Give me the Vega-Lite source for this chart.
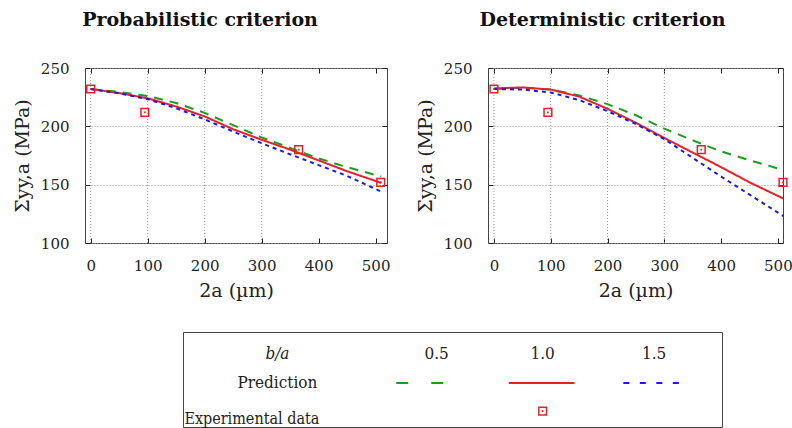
{
  "$schema": "https://vega.github.io/schema/vega-lite/v6.json",
  "padding": {"left": 12, "top": 10, "right": 0, "bottom": 0},
  "background": "white",
  "config": {
    "font": "DejaVu Serif",
    "view": {"stroke": "#444", "strokeWidth": 1},
    "axis": {
      "labelFont": "DejaVu Serif", "labelFontSize": 15, "labelColor": "#222",
      "titleFont": "DejaVu Serif", "titleFontSize": 19, "titleFontWeight": "normal", "titleColor": "#222",
      "domain": false, "tickColor": "#222", "tickSize": -5, "grid": false
    },
    "text": {"font": "DejaVu Serif Condensed"},
    "title": {"font": "DejaVu Serif", "fontSize": 19, "fontWeight": "bold", "color": "#111", "anchor": "middle", "offset": 31}
  },
  "resolve": {"scale": {"strokeDash": "independent", "color": "independent"}},
  "datasets": {
    "curves": [
      {"crit": "P", "ba": "0.5", "x": 0, "y": 232}, {"crit": "P", "ba": "0.5", "x": 50, "y": 229.5}, {"crit": "P", "ba": "0.5", "x": 100, "y": 226}, {"crit": "P", "ba": "0.5", "x": 150, "y": 220}, {"crit": "P", "ba": "0.5", "x": 200, "y": 211.5}, {"crit": "P", "ba": "0.5", "x": 250, "y": 201}, {"crit": "P", "ba": "0.5", "x": 300, "y": 190.5}, {"crit": "P", "ba": "0.5", "x": 350, "y": 181.5}, {"crit": "P", "ba": "0.5", "x": 400, "y": 172.5}, {"crit": "P", "ba": "0.5", "x": 450, "y": 165}, {"crit": "P", "ba": "0.5", "x": 510, "y": 157},
      {"crit": "P", "ba": "1.0", "x": 0, "y": 232}, {"crit": "P", "ba": "1.0", "x": 50, "y": 228.5}, {"crit": "P", "ba": "1.0", "x": 100, "y": 224}, {"crit": "P", "ba": "1.0", "x": 150, "y": 217}, {"crit": "P", "ba": "1.0", "x": 200, "y": 208.5}, {"crit": "P", "ba": "1.0", "x": 250, "y": 197.5}, {"crit": "P", "ba": "1.0", "x": 300, "y": 188.5}, {"crit": "P", "ba": "1.0", "x": 350, "y": 180}, {"crit": "P", "ba": "1.0", "x": 400, "y": 170.8}, {"crit": "P", "ba": "1.0", "x": 450, "y": 161.5}, {"crit": "P", "ba": "1.0", "x": 510, "y": 151.5},
      {"crit": "P", "ba": "1.5", "x": 0, "y": 232}, {"crit": "P", "ba": "1.5", "x": 50, "y": 228.3}, {"crit": "P", "ba": "1.5", "x": 100, "y": 223.3}, {"crit": "P", "ba": "1.5", "x": 150, "y": 215.5}, {"crit": "P", "ba": "1.5", "x": 200, "y": 206}, {"crit": "P", "ba": "1.5", "x": 250, "y": 195.5}, {"crit": "P", "ba": "1.5", "x": 300, "y": 185.5}, {"crit": "P", "ba": "1.5", "x": 350, "y": 176}, {"crit": "P", "ba": "1.5", "x": 400, "y": 166.8}, {"crit": "P", "ba": "1.5", "x": 450, "y": 157.5}, {"crit": "P", "ba": "1.5", "x": 510, "y": 144},
      {"crit": "D", "ba": "0.5", "x": 0, "y": 232}, {"crit": "D", "ba": "0.5", "x": 50, "y": 233}, {"crit": "D", "ba": "0.5", "x": 100, "y": 231.5}, {"crit": "D", "ba": "0.5", "x": 150, "y": 226.5}, {"crit": "D", "ba": "0.5", "x": 200, "y": 219}, {"crit": "D", "ba": "0.5", "x": 250, "y": 209.5}, {"crit": "D", "ba": "0.5", "x": 300, "y": 198}, {"crit": "D", "ba": "0.5", "x": 350, "y": 188}, {"crit": "D", "ba": "0.5", "x": 400, "y": 178.5}, {"crit": "D", "ba": "0.5", "x": 450, "y": 171}, {"crit": "D", "ba": "0.5", "x": 510, "y": 162.5},
      {"crit": "D", "ba": "1.0", "x": 0, "y": 232.5}, {"crit": "D", "ba": "1.0", "x": 50, "y": 233.4}, {"crit": "D", "ba": "1.0", "x": 100, "y": 231.5}, {"crit": "D", "ba": "1.0", "x": 150, "y": 225.5}, {"crit": "D", "ba": "1.0", "x": 200, "y": 215}, {"crit": "D", "ba": "1.0", "x": 250, "y": 203}, {"crit": "D", "ba": "1.0", "x": 300, "y": 190}, {"crit": "D", "ba": "1.0", "x": 350, "y": 177.5}, {"crit": "D", "ba": "1.0", "x": 400, "y": 165}, {"crit": "D", "ba": "1.0", "x": 450, "y": 152}, {"crit": "D", "ba": "1.0", "x": 510, "y": 138},
      {"crit": "D", "ba": "1.5", "x": 0, "y": 232}, {"crit": "D", "ba": "1.5", "x": 50, "y": 231.5}, {"crit": "D", "ba": "1.5", "x": 100, "y": 229}, {"crit": "D", "ba": "1.5", "x": 150, "y": 222.5}, {"crit": "D", "ba": "1.5", "x": 200, "y": 213}, {"crit": "D", "ba": "1.5", "x": 250, "y": 202}, {"crit": "D", "ba": "1.5", "x": 300, "y": 189}, {"crit": "D", "ba": "1.5", "x": 350, "y": 173}, {"crit": "D", "ba": "1.5", "x": 400, "y": 157}, {"crit": "D", "ba": "1.5", "x": 450, "y": 141.5}, {"crit": "D", "ba": "1.5", "x": 510, "y": 123}
    ],
    "exp": [
      {"x": 0, "y": 232}, {"x": 95, "y": 212}, {"x": 365, "y": 180}, {"x": 509, "y": 152}
    ],
    "grid": [{"g": 0}, {"g": 100}, {"g": 200}, {"g": 300}],
    "legtext": [
      {"c": 1.5, "r": 0, "t": "0.5"}, {"c": 2.5, "r": 0, "t": "1.0"}, {"c": 3.55, "r": 0, "t": "1.5"},
      {"c": 0, "r": 1, "t": "Prediction"}
    ],
    "legsample": [
      {"ba": "0.5", "c1": 1.12, "c2": 1.57, "r": 1},
      {"ba": "1.0", "c1": 2.18, "c2": 2.8, "r": 1},
      {"ba": "1.5", "c1": 3.26, "c2": 3.79, "r": 1}
    ]
  },
  "vconcat": [
    {
      "spacing": 24,
      "hconcat": [
        {
          "title": {"text": "Probabilistic criterion", "anchor": "middle", "dx": -36},
          "width": 302, "height": 175,
          "layer": [
            {
              "data": {"name": "grid"},
              "mark": {"type": "rule", "color": "#9a9a9a", "strokeDash": [1, 2], "strokeWidth": 1},
              "encoding": {"x": {"field": "g", "type": "quantitative", "scale": {"domain": [-10, 520], "nice": false, "zero": false}, "axis": {"orient": "top", "labels": false, "values": [0, 100, 200, 300, 400, 500], "title": null}}}
            },
            {
              "data": {"name": "curves"},
              "transform": [{"filter": "datum.crit === 'P'"}],
              "mark": {"type": "line", "strokeWidth": 2},
              "encoding": {
                "x": {"field": "x", "type": "quantitative", "scale": {"domain": [-10, 520], "nice": false, "zero": false}, "axis": {"orient": "bottom", "values": [0, 100, 200, 300, 400, 500], "title": "2a (µm)", "labelPadding": 20, "titlePadding": 8}},
                "y": {"field": "y", "type": "quantitative", "scale": {"domain": [100, 250], "nice": false, "zero": false}, "axis": {"orient": "left", "values": [100, 150, 200, 250], "title": "Σyy,a (MPa)", "labelPadding": 21, "titlePadding": 8, "grid": true, "gridColor": "#9a9a9a", "gridDash": [1, 2]}},
                "color": {"field": "ba", "type": "nominal", "scale": {"domain": ["0.5", "1.0", "1.5"], "range": ["#1f9a1f", "#e8202a", "#1a1ae6"]}, "legend": null},
                "strokeDash": {"field": "ba", "type": "nominal", "scale": {"domain": ["0.5", "1.0", "1.5"], "range": [[9, 7], [1, 0], [4, 4]]}, "legend": null}
              }
            },
            {
              "data": {"name": "exp"},
              "mark": {"type": "point", "shape": "square", "size": 60, "filled": false, "stroke": "#e8202a", "strokeWidth": 1.5, "opacity": 1},
              "encoding": {
                "x": {"field": "x", "type": "quantitative", "axis": null},
                "y": {"field": "y", "type": "quantitative", "axis": {"orient": "right", "labels": false, "values": [100, 150, 200, 250], "title": null}}
              }
            },
            {
              "data": {"name": "exp"},
              "mark": {"type": "point", "shape": "square", "size": 3, "filled": true, "color": "#e8202a", "opacity": 1},
              "encoding": {"x": {"field": "x", "type": "quantitative", "axis": null}, "y": {"field": "y", "type": "quantitative", "axis": null}}
            }
          ]
        },
        {
          "title": {"text": "Deterministic criterion", "anchor": "middle", "dx": -33},
          "width": 295, "height": 175,
          "layer": [
            {
              "data": {"name": "grid"},
              "mark": {"type": "rule", "color": "#9a9a9a", "strokeDash": [1, 2], "strokeWidth": 1},
              "encoding": {"x": {"field": "g", "type": "quantitative", "scale": {"domain": [-10.5, 509], "nice": false, "zero": false}, "axis": {"orient": "top", "labels": false, "values": [0, 100, 200, 300, 400, 500], "title": null}}}
            },
            {
              "data": {"name": "curves"},
              "transform": [{"filter": "datum.crit === 'D'"}],
              "mark": {"type": "line", "strokeWidth": 2},
              "encoding": {
                "x": {"field": "x", "type": "quantitative", "scale": {"domain": [-10.5, 509], "nice": false, "zero": false}, "axis": {"orient": "bottom", "values": [0, 100, 200, 300, 400, 500], "title": "2a (µm)", "labelPadding": 20, "titlePadding": 8}},
                "y": {"field": "y", "type": "quantitative", "scale": {"domain": [100, 250], "nice": false, "zero": false}, "axis": {"orient": "left", "values": [100, 150, 200, 250], "title": "Σyy,a (MPa)", "labelPadding": 21, "titlePadding": 8, "grid": true, "gridColor": "#9a9a9a", "gridDash": [1, 2]}},
                "color": {"field": "ba", "type": "nominal", "scale": {"domain": ["0.5", "1.0", "1.5"], "range": ["#1f9a1f", "#e8202a", "#1a1ae6"]}, "legend": null},
                "strokeDash": {"field": "ba", "type": "nominal", "scale": {"domain": ["0.5", "1.0", "1.5"], "range": [[9, 7], [1, 0], [4, 4]]}, "legend": null}
              }
            },
            {
              "data": {"name": "exp"},
              "mark": {"type": "point", "shape": "square", "size": 60, "filled": false, "stroke": "#e8202a", "strokeWidth": 1.5, "opacity": 1},
              "encoding": {
                "x": {"field": "x", "type": "quantitative", "axis": null},
                "y": {"field": "y", "type": "quantitative", "axis": {"orient": "right", "labels": false, "values": [100, 150, 200, 250], "title": null}}
              }
            },
            {
              "data": {"name": "exp"},
              "mark": {"type": "point", "shape": "square", "size": 3, "filled": true, "color": "#e8202a", "opacity": 1},
              "encoding": {"x": {"field": "x", "type": "quantitative", "axis": null}, "y": {"field": "y", "type": "quantitative", "axis": null}}
            }
          ]
        }
      ]
    },
    {
      "spacing": 0,
      "hconcat": [
        {
          "width": 97, "height": 95,
          "view": {"stroke": null},
          "data": {"values": []},
          "mark": {"type": "text"},
          "encoding": {}
        },
        {
          "width": 539, "height": 95,
          "layer": [
            {
              "data": {"values": [{"c": 0, "r": 0, "t": "b/a"}]},
              "mark": {"type": "text", "fontSize": 17, "fontStyle": "italic", "color": "#222", "baseline": "middle", "font": "DejaVu Serif Condensed"},
              "encoding": {
                "x": {"field": "c", "type": "quantitative", "scale": {"domain": [-0.89, 4.19], "nice": false, "zero": false}, "axis": null},
                "y": {"field": "r", "type": "quantitative", "scale": {"domain": [-0.76, 2.52], "reverse": true, "nice": false, "zero": false}, "axis": null},
                "text": {"field": "t"}
              }
            },
            {
              "data": {"name": "legtext"},
              "mark": {"type": "text", "fontSize": 17, "color": "#222", "baseline": "middle", "font": "DejaVu Serif Condensed"},
              "encoding": {
                "x": {"field": "c", "type": "quantitative", "axis": null},
                "y": {"field": "r", "type": "quantitative", "axis": null},
                "text": {"field": "t"}
              }
            },
            {
              "data": {"values": [{"c": -0.877, "r": 2.24, "t": "Experimental data"}]},
              "mark": {"type": "text", "fontSize": 16, "color": "#222", "baseline": "middle", "align": "left", "font": "DejaVu Serif Condensed"},
              "encoding": {
                "x": {"field": "c", "type": "quantitative", "axis": null},
                "y": {"field": "r", "type": "quantitative", "axis": null},
                "text": {"field": "t"}
              }
            },
            {
              "data": {"name": "legsample"},
              "mark": {"type": "rule", "strokeWidth": 2},
              "encoding": {
                "x": {"field": "c1", "type": "quantitative", "axis": null},
                "x2": {"field": "c2"},
                "y": {"field": "r", "type": "quantitative", "axis": null},
                "color": {"field": "ba", "type": "nominal", "scale": {"domain": ["0.5", "1.0", "1.5"], "range": ["#1f9a1f", "#e8202a", "#1a1ae6"]}, "legend": null},
                "strokeDash": {"field": "ba", "type": "nominal", "scale": {"domain": ["0.5", "1.0", "1.5"], "range": [[12, 23], [1, 0], [6, 10.5]]}, "legend": null}
              }
            },
            {
              "data": {"values": [{"c": 2.5, "r": 1.97}]},
              "mark": {"type": "point", "shape": "square", "size": 60, "filled": false, "stroke": "#e8202a", "strokeWidth": 1.5, "opacity": 1},
              "encoding": {"x": {"field": "c", "type": "quantitative", "axis": null}, "y": {"field": "r", "type": "quantitative", "axis": null}}
            },
            {
              "data": {"values": [{"c": 2.5, "r": 1.97}]},
              "mark": {"type": "point", "shape": "square", "size": 3, "filled": true, "color": "#e8202a", "opacity": 1},
              "encoding": {"x": {"field": "c", "type": "quantitative", "axis": null}, "y": {"field": "r", "type": "quantitative", "axis": null}}
            }
          ]
        }
      ]
    }
  ],
  "spacing": 30
}
